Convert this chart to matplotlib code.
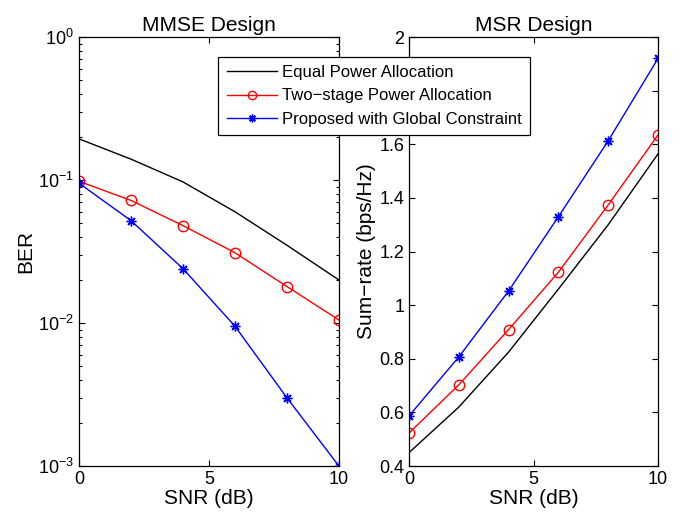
import matplotlib
matplotlib.use("Agg")
import matplotlib.pyplot as plt
import numpy as np

plt.rcParams['font.family'] = ['Liberation Sans', 'DejaVu Sans']
plt.rcParams['mathtext.fontset'] = 'custom'
plt.rcParams['mathtext.rm'] = 'Liberation Sans'
plt.rcParams['mathtext.it'] = 'Liberation Sans:italic'

snr = [0, 2, 4, 6, 8, 10]

# MMSE design, BER
ber_equal = [0.194, 0.140, 0.097, 0.060, 0.035, 0.020]
ber_two = [0.098, 0.072, 0.048, 0.031, 0.018, 0.0105]
ber_prop = [0.095, 0.052, 0.024, 0.0095, 0.003, 0.001]

# MSR design, sum-rate
rate_equal = [0.45, 0.62, 0.825, 1.06, 1.30, 1.564]
rate_two = [0.523, 0.703, 0.909, 1.123, 1.374, 1.635]
rate_prop = [0.587, 0.807, 1.053, 1.33, 1.613, 1.92]

labels = ['Equal Power Allocation', 'Two\u2212stage Power Allocation',
          'Proposed with Global Constraint']

star = (8, 2, 0)  # matlab-like asterisk

fig = plt.figure(figsize=(6.84, 5.2), dpi=100)
ax1 = fig.add_axes([0.1155, 0.1038, 0.380, 0.825])
ax2 = fig.add_axes([0.598, 0.1038, 0.364, 0.825])

def style(ax):
    ax.tick_params(which='both', direction='in', top=True, right=True,
                   labelsize=13, width=0.8)
    ax.tick_params(which='major', length=4)
    ax.tick_params(which='minor', length=2)
    ax.set_xlim(0, 10)
    ax.set_xticks([0, 5, 10])
    ax.set_xlabel('SNR (dB)', fontsize=15, labelpad=1)
    for s in ax.spines.values():
        s.set_linewidth(0.9)

h1, = ax1.semilogy(snr, ber_equal, 'k-', lw=1.0)
h2, = ax1.semilogy(snr, ber_two, 'r-', marker='o', lw=1.0, ms=7.5, mfc='none', mew=1.0)
h3, = ax1.semilogy(snr, ber_prop, 'b-', marker=star, lw=1.0, ms=7, mew=1.0)
ax1.set_ylim(1e-3, 1)
style(ax1)
ax1.set_ylabel('BER', fontsize=15, labelpad=2)
ax1.set_title('MMSE Design', fontsize=15, pad=4)

ax2.plot(snr, rate_equal, 'k-', lw=1.0)
ax2.plot(snr, rate_two, 'r-', marker='o', lw=1.0, ms=7.5, mfc='none', mew=1.0)
ax2.plot(snr, rate_prop, 'b-', marker=star, lw=1.0, ms=7, mew=1.0)
ax2.set_ylim(0.4, 2)
ax2.set_yticks([0.4, 0.6, 0.8, 1, 1.2, 1.4, 1.6, 1.8, 2])
# the 1.8 label sits behind the legend in the original
ax2.set_yticklabels(['0.4', '0.6', '0.8', '1', '1.2', '1.4', '1.6', '', '2'])
style(ax2)
ax2.set_ylabel('Sum\u2212rate (bps/Hz)', fontsize=15, labelpad=2)
ax2.set_title('MSR Design', fontsize=15, pad=4)

leg = fig.legend([h1, h2, h3], labels, loc='upper left',
                 bbox_to_anchor=(0.319, 0.891), fontsize=12,
                 fancybox=False, framealpha=1, edgecolor='black',
                 handlelength=3.0, borderpad=0.5, labelspacing=0.5,
                 handletextpad=0.35, borderaxespad=0, markerscale=0.8)
leg.get_frame().set_linewidth(0.9)

fig.savefig('out.png', dpi=100)
